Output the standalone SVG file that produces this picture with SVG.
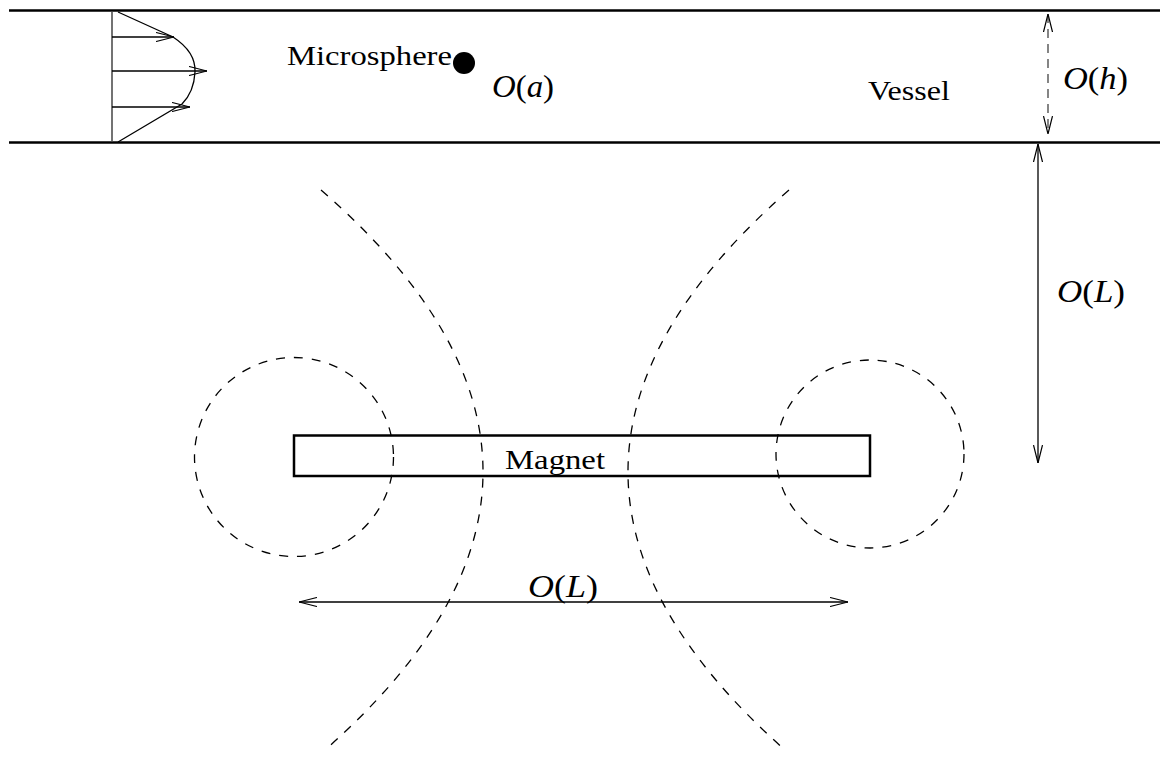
<svg xmlns="http://www.w3.org/2000/svg" width="1160" height="761" viewBox="0 0 1160 761">
  <style>
    .wall { stroke: #000; stroke-width: 2.5; fill: none; }
    .thin { stroke: #000; stroke-width: 1.3; fill: none; }
    .dash { stroke: #000; stroke-width: 1.3; fill: none; stroke-dasharray: 9 9; }
    .lbl { font-family: "Liberation Serif", "Times New Roman", serif; font-size: 28px; fill: #000; }
    .math { font-family: "Liberation Serif", "Times New Roman", serif; font-size: 32px; fill: #000; }
    .it { font-style: italic; }
  </style>
  <defs>
    <marker id="ah" viewBox="0 0 18 10" refX="18" refY="5" markerWidth="18" markerHeight="10" markerUnits="userSpaceOnUse" orient="auto-start-reverse">
      <path d="M0,0.5 L18,5 L0,9.5" fill="none" stroke="#000" stroke-width="1.2"/>
    </marker>
  </defs>
  <rect x="0" y="0" width="1160" height="761" fill="#fff"/>

  <g id="vessel">
    <line class="wall" x1="9" y1="10.5" x2="1160" y2="10.5"/>
    <line class="wall" x1="9" y1="142.5" x2="1160" y2="142.5"/>
    <text class="lbl" x="868" y="100" textLength="82" lengthAdjust="spacingAndGlyphs">Vessel</text>
  </g>

  <g id="flow-profile">
    <line x1="112" y1="12" x2="112" y2="142" stroke="#444" stroke-width="1.5"/>
    <path class="thin" d="M118,12 L173,37 Q196,52 195,72 Q194,92 182,104 L118,142"/>
  </g>

  <g id="microsphere">
    <text class="lbl" x="287" y="65" textLength="165" lengthAdjust="spacingAndGlyphs">Microsphere</text>
    <circle cx="464" cy="63" r="11" fill="#000"/>
    <text class="math" x="492" y="97" textLength="62" lengthAdjust="spacingAndGlyphs"><tspan class="it">O</tspan>(<tspan class="it">a</tspan>)</text>
  </g>

  <g id="magnet">
    <rect class="wall" x="294" y="435.5" width="576" height="40.5"/>
    <text class="lbl" x="505" y="469" textLength="100" lengthAdjust="spacingAndGlyphs">Magnet</text>
  </g>

  <g id="field-lines">
    <circle class="dash" cx="294" cy="457" r="99.5"/>
    <circle class="dash" cx="870" cy="454" r="94"/>
    <path class="dash" d="M321,190 Q643,470 325,750"/>
    <path class="dash" d="M789,190 Q469,470 785,750"/>
  </g>

  <g id="connectors">
    <line class="thin" x1="112" y1="37" x2="174" y2="37" marker-end="url(#ah)"/>
    <line class="thin" x1="112" y1="71" x2="207" y2="71" marker-end="url(#ah)"/>
    <line class="thin" x1="112" y1="107" x2="190" y2="107" marker-end="url(#ah)"/>
    <line x1="1048" y1="14" x2="1048" y2="134" stroke="#444" stroke-width="1.3" stroke-dasharray="9 6" marker-start="url(#ah)" marker-end="url(#ah)"/>
    <line class="thin" x1="1038" y1="144" x2="1038" y2="463" marker-start="url(#ah)" marker-end="url(#ah)"/>
    <line class="thin" x1="299" y1="602" x2="848" y2="602" marker-start="url(#ah)" marker-end="url(#ah)"/>
  </g>

  <g id="labels">
    <text class="math" x="1063" y="89" textLength="65" lengthAdjust="spacingAndGlyphs"><tspan class="it">O</tspan>(<tspan class="it">h</tspan>)</text>
    <text class="math" x="1057" y="302" textLength="68" lengthAdjust="spacingAndGlyphs"><tspan class="it">O</tspan>(<tspan class="it">L</tspan>)</text>
    <text class="math" x="528" y="597" textLength="70" lengthAdjust="spacingAndGlyphs"><tspan class="it">O</tspan>(<tspan class="it">L</tspan>)</text>
  </g>
</svg>
